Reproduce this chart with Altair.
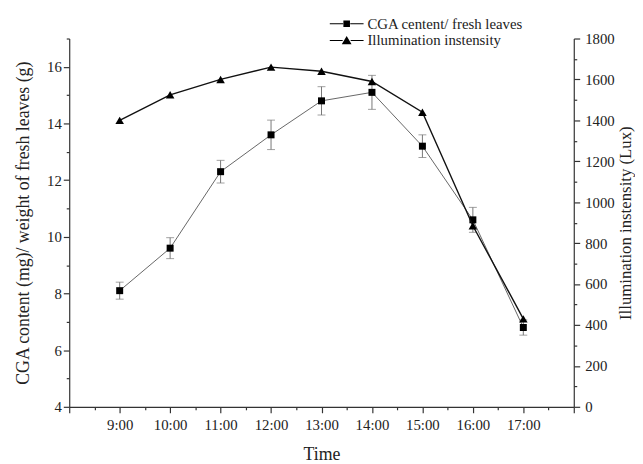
import altair as alt
import pandas as pd

# ---- data ----
times = ["9:00", "10:00", "11:00", "12:00", "13:00", "14:00", "15:00", "16:00", "17:00"]
cga = [8.1, 9.6, 12.3, 13.6, 14.8, 15.1, 13.2, 10.6, 6.8]
cga_err = [0.3, 0.37, 0.4, 0.52, 0.5, 0.6, 0.4, 0.44, 0.27]
illum = [1400, 1525, 1600, 1660, 1640, 1590, 1440, 885, 430]
series_names = ["CGA centent/ fresh leaves", "Illumination instensity"]

hours = [int(t.split(":")[0]) for t in times]
df = pd.DataFrame({"time": times, "hour": hours, "cga": cga, "err": cga_err, "illum": illum})
df["lo"] = df["cga"] - df["err"]
df["hi"] = df["cga"] + df["err"]
legend_df = pd.DataFrame({"series": series_names})

FONT = "Liberation Serif"
TXT = "#222222"

x_ticks = [8 + 0.5 * i for i in range(21)]
left_ticks = list(range(4, 18))
right_ticks = list(range(0, 1801, 100))

xscale = alt.Scale(domain=[8, 18], nice=False, zero=False)
x_axis = alt.Axis(
    values=x_ticks,
    labelExpr="(datum.value % 1 === 0 && datum.value > 8 && datum.value < 18) ? datum.value + ':00' : ''",
    tickSize={"condition": {"test": "datum.value % 1 === 0", "value": 6}, "value": 3},
    labelOverlap=False, labelFlush=False, grid=False,
    title="Time", titlePadding=13, labelPadding=5,
)
x_enc = alt.X("hour:Q", scale=xscale, axis=x_axis)

lscale = alt.Scale(domain=[4, 17], nice=False, zero=False)
left_axis = alt.Axis(
    orient="left", values=left_ticks,
    labelExpr="datum.value % 2 === 0 ? datum.label : ''",
    tickSize={"condition": {"test": "datum.value % 2 === 0", "value": 6}, "value": 3},
    labelOverlap=False, labelFlush=False, grid=False,
    title="CGA content (mg)/ weight of fresh leaves (g)", titlePadding=14, labelPadding=2,
)
rscale = alt.Scale(domain=[0, 1800], nice=False, zero=False)
right_axis = alt.Axis(
    orient="right", values=right_ticks,
    labelExpr="datum.value % 200 === 0 ? datum.label : ''",
    tickSize={"condition": {"test": "datum.value % 200 === 0", "value": 6}, "value": 3},
    labelOverlap=False, labelFlush=False, grid=False, format="d",
    title="Illumination instensity (Lux)", titleAngle=270, titleBaseline="top",
    titlePadding=3, labelPadding=5, titleFontSize=17,
)

base = alt.Chart(df)
yl = lambda f: alt.Y(f, scale=lscale, axis=left_axis)
yr = lambda f: alt.Y(f, scale=rscale, axis=right_axis)

err_rule = base.mark_rule(color="#777777", strokeWidth=1).encode(x=x_enc, y=yl("lo:Q"), y2="hi:Q")
cap_lo = base.mark_tick(color="#777777", orient="horizontal", size=8, thickness=1).encode(x=x_enc, y=yl("lo:Q"))
cap_hi = base.mark_tick(color="#777777", orient="horizontal", size=8, thickness=1).encode(x=x_enc, y=yl("hi:Q"))
cga_line = base.mark_line(color="#666666", strokeWidth=1).encode(x=x_enc, y=yl("cga:Q"))
cga_pts = base.mark_square(color="black", size=50, opacity=1).encode(x=x_enc, y=yl("cga:Q"))
left = alt.layer(err_rule, cap_lo, cap_hi, cga_line, cga_pts)

ill_line = base.mark_line(color="#111111", strokeWidth=1.4).encode(x=x_enc, y=yr("illum:Q"))
ill_pts = base.mark_point(shape="triangle-up", filled=True, color="black", size=75, opacity=1).encode(
    x=x_enc, y=yr("illum:Q")
)
right = alt.layer(ill_line, ill_pts)

# legend symbols: line - marker - line (lines drawn as thin filled bars)
sq_path = ("M-1.9,-0.06H-0.4V0.06H-1.9Z M0.4,-0.06H1.9V0.06H0.4Z "
           "M-0.37,-0.37H0.37V0.37H-0.37Z")
tri_path = ("M-1.9,-0.06H-0.45V0.06H-1.9Z M0.45,-0.06H1.9V0.06H0.45Z "
            "M0,-0.5L0.55,0.42H-0.55Z")
legend_layer = alt.Chart(legend_df).mark_point(filled=True, color="black").encode(
    shape=alt.Shape(
        "series:N",
        scale=alt.Scale(domain=series_names, range=[sq_path, tri_path]),
        legend=alt.Legend(
            title=None, orient="none", legendX=272, legendY=-24, padding=0,
            symbolSize=324, symbolFillColor="black", symbolStrokeColor="black",
            symbolStrokeWidth=0, symbolOpacity=1,
            labelFont=FONT, labelFontSize=15, labelColor=TXT, labelOffset=12,
            rowPadding=0, labelLimit=400,
        ),
    )
).transform_filter("false")

chart = (
    alt.layer(left, right, legend_layer)
    .resolve_scale(y="independent")
    .properties(
        width=511, height=373,
        autosize=alt.AutoSizeParams(type="none"),
        padding={"left": 62, "top": 28, "right": 62, "bottom": 55},
    )
    .configure_view(stroke=None)
    .configure_axis(
        labelFont=FONT, titleFont=FONT, labelFontSize=15, titleFontSize=18,
        labelColor=TXT, titleColor=TXT, titleFontWeight="normal",
        domainColor="#333333", tickColor="#333333", domainWidth=1.2, tickWidth=1.2,
    )
)

chart.save("out.html", embed_options={"renderer": "svg", "actions": False})
